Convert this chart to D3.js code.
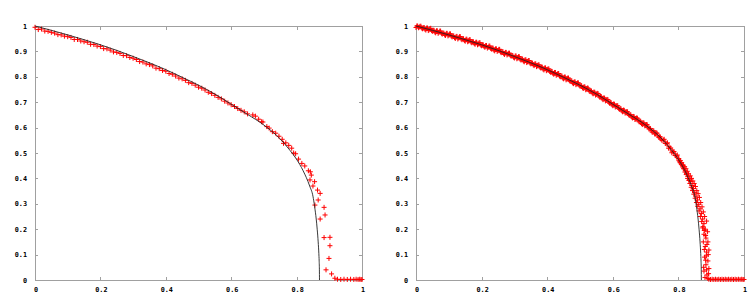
<!DOCTYPE html>
<html>
<head>
<meta charset="utf-8">
<script src="https://cdn.jsdelivr.net/npm/d3@7"></script>
<style>
  body { margin: 0; background: #fff; }
</style>
</head>
<body>
<div id="vis"></div>
<script>
// theory curve (same on both panels)
const curveX = [0,0.05,0.1,0.15,0.2,0.25,0.3,0.35,0.4,0.45,0.5,0.55,0.6,0.65,0.7,0.75,0.78,0.8,0.82,0.84,0.85,0.855,0.86,0.863,0.866,0.868,0.869,0.8697,0.870];
const curveY = [1,0.983,0.965,0.946,0.926,0.904,0.880,0.855,0.828,0.798,0.767,0.732,0.692,0.652,0.610,0.555,0.510,0.475,0.430,0.370,0.330,0.290,0.240,0.200,0.150,0.105,0.075,0.040,0];

// left panel: simulation points
const leftX = [0,0.01,0.02,0.03,0.04,0.05,0.06,0.07,0.08,0.09,0.10,0.11,0.12,0.13,0.14,0.15,0.16,0.17,0.18,0.19,
  0.20,0.21,0.22,0.23,0.24,0.25,0.26,0.27,0.28,0.29,0.30,0.31,0.32,0.33,0.34,0.35,0.36,0.37,0.38,0.39,
  0.40,0.41,0.42,0.43,0.44,0.45,0.46,0.47,0.48,0.49,0.50,0.51,0.52,0.53,0.54,0.55,0.56,0.57,0.58,0.59,
  0.60,0.61,0.62,0.63,0.64,0.65,0.666,0.674,0.684,0.693,0.697,0.709,0.716,0.726,0.736,0.746,0.756,0.760,0.767,0.776,
  0.785,0.791,0.797,0.806,0.816,0.825,0.836,0.842,0.845,0.841,0.855,0.850,0.864,0.872,0.866,0.856,0.884,0.887,0.872,0.884,
  0.902,0.902,0.899,0.89,0.907,0.917,0.925,0.935,0.945,0.955,0.965,0.975,0.982,0.988,0.993,0.997,1.0];
const leftY = [0.995,0.986,0.988,0.980,0.979,0.975,0.972,0.966,0.965,0.960,0.958,0.955,0.947,0.947,0.941,0.938,0.936,0.928,0.927,0.921,
  0.919,0.911,0.910,0.905,0.898,0.896,0.892,0.884,0.883,0.876,0.873,0.868,0.860,0.858,0.851,0.848,0.843,0.834,0.832,0.825,
  0.822,0.813,0.810,0.803,0.795,0.792,0.786,0.777,0.774,0.767,0.759,0.755,0.748,0.739,0.734,0.727,0.719,0.713,0.704,0.697,
  0.690,0.683,0.675,0.668,0.662,0.654,0.650,0.645,0.633,0.623,0.622,0.604,0.598,0.584,0.578,0.566,0.554,0.538,0.540,0.530,
  0.519,0.500,0.497,0.476,0.459,0.449,0.430,0.426,0.413,0.394,0.387,0.370,0.354,0.341,0.315,0.295,0.286,0.256,0.240,0.167,
  0.168,0.135,0.085,0.040,0.024,0.007,0.003,0.002,0.003,0.002,0.003,0.002,0.003,0.002,0.003,0.002,0.002];

// right panel: simulation points (finer sampling)
const rightX = [0,0.005,0.01,0.015,0.02,0.025,0.03,0.035,0.04,0.045,0.05,0.055,0.06,0.065,0.07,0.075,0.08,0.085,0.09,0.095,
  0.1,0.105,0.11,0.115,0.12,0.125,0.13,0.135,0.14,0.145,0.15,0.155,0.16,0.165,0.17,0.175,0.18,0.185,0.19,0.195,
  0.2,0.205,0.21,0.215,0.22,0.225,0.23,0.235,0.24,0.245,0.25,0.255,0.26,0.265,0.27,0.275,0.28,0.285,0.29,0.295,
  0.3,0.305,0.31,0.315,0.32,0.325,0.33,0.335,0.34,0.345,0.35,0.355,0.36,0.365,0.37,0.375,0.38,0.385,0.39,0.395,
  0.4,0.405,0.41,0.415,0.42,0.425,0.43,0.435,0.44,0.445,0.45,0.455,0.46,0.465,0.47,0.475,0.48,0.485,0.49,0.495,
  0.5,0.505,0.51,0.515,0.52,0.525,0.53,0.535,0.54,0.545,0.55,0.555,0.56,0.565,0.57,0.575,0.58,0.585,0.59,0.595,
  0.6,0.605,0.61,0.615,0.62,0.625,0.63,0.635,0.64,0.645,0.65,0.655,0.66,0.665,0.67,0.675,0.68,0.685,0.69,0.695,
  0.7,0.705,0.71,0.715,0.72,0.725,0.73,0.735,0.74,0.745,0.75,0.755,0.76,0.765,0.77,0.775,0.78,0.785,0.79,0.795,
  0.800,0.803,0.806,0.808,0.810,0.812,0.815,0.817,0.819,0.821,0.823,0.825,0.827,0.829,0.831,0.833,0.836,0.838,0.840,0.842,
  0.844,0.846,0.848,0.850,0.852,0.854,0.856,0.858,0.860,0.862,0.864,0.866,0.868,0.870,0.872,0.874,0.876,0.878,0.880,0.874,
  0.882,0.886,0.878,0.884,0.889,0.876,0.882,0.890,0.886,0.893,0.880,0.890,0.884,0.893,0.878,0.887,0.881,0.890,
  0.893,0.898,0.903,0.908,0.913,0.918,0.923,0.928,0.933,0.938,0.943,0.948,0.953,0.958,0.963,0.968,0.973,0.978,0.983,0.988,0.993,0.997,1.0];
const rightY = [0.994,1.000,0.996,0.999,0.989,0.994,0.984,0.992,0.985,0.991,0.979,0.983,0.973,0.981,0.975,0.980,0.968,0.972,0.963,0.971,
  0.964,0.969,0.957,0.961,0.951,0.959,0.953,0.958,0.946,0.950,0.940,0.948,0.941,0.946,0.934,0.938,0.928,0.936,0.929,0.934,
  0.922,0.926,0.916,0.923,0.916,0.921,0.909,0.913,0.902,0.910,0.903,0.908,0.895,0.899,0.888,0.896,0.889,0.893,0.881,0.884,
  0.874,0.882,0.874,0.879,0.866,0.870,0.859,0.867,0.859,0.864,0.851,0.854,0.844,0.851,0.843,0.847,0.835,0.838,0.827,0.835,
  0.827,0.831,0.818,0.821,0.810,0.817,0.809,0.813,0.800,0.803,0.792,0.799,0.791,0.795,0.782,0.784,0.773,0.780,0.772,0.776,
  0.763,0.765,0.754,0.760,0.752,0.755,0.742,0.744,0.733,0.739,0.731,0.734,0.720,0.722,0.710,0.716,0.707,0.710,0.696,0.698,
  0.686,0.692,0.683,0.686,0.672,0.674,0.662,0.668,0.659,0.662,0.648,0.650,0.638,0.643,0.634,0.637,0.623,0.625,0.612,0.618,
  0.609,0.611,0.595,0.596,0.582,0.587,0.576,0.578,0.562,0.563,0.549,0.551,0.538,0.537,0.519,0.517,0.501,0.503,0.490,0.489,
  0.478,0.468,0.470,0.460,0.462,0.450,0.452,0.440,0.446,0.430,0.438,0.420,0.428,0.408,0.418,0.398,0.410,0.388,0.400,0.372,
  0.390,0.360,0.380,0.345,0.368,0.330,0.352,0.315,0.340,0.298,0.325,0.280,0.305,0.262,0.288,0.240,0.268,0.222,0.250,0.205,
  0.200,0.232,0.180,0.165,0.190,0.150,0.132,0.150,0.110,0.118,0.090,0.075,0.060,0.045,0.035,0.020,0.010,0.006,
  0.003,0.002,0.003,0.002,0.003,0.002,0.003,0.002,0.003,0.002,0.003,0.002,0.003,0.002,0.003,0.002,0.003,0.002,0.003,0.002,0.003,0.002,0.002];

// right panel: second run of samples, between the first ones
const rightX2 = [0.0025,0.0075,0.0125,0.0175,0.0225,0.0275,0.0325,0.0375,0.0425,0.0475,0.0525,0.0575,0.0625,0.0675,0.0725,0.0775,0.0825,0.0875,0.0925,0.0975,
  0.1025,0.1075,0.1125,0.1175,0.1225,0.1275,0.1325,0.1375,0.1425,0.1475,0.1525,0.1575,0.1625,0.1675,0.1725,0.1775,0.1825,0.1875,0.1925,0.1975,
  0.2025,0.2075,0.2125,0.2175,0.2225,0.2275,0.2325,0.2375,0.2425,0.2475,0.2525,0.2575,0.2625,0.2675,0.2725,0.2775,0.2825,0.2875,0.2925,0.2975,
  0.3025,0.3075,0.3125,0.3175,0.3225,0.3275,0.3325,0.3375,0.3425,0.3475,0.3525,0.3575,0.3625,0.3675,0.3725,0.3775,0.3825,0.3875,0.3925,0.3975,
  0.4025,0.4075,0.4125,0.4175,0.4225,0.4275,0.4325,0.4375,0.4425,0.4475,0.4525,0.4575,0.4625,0.4675,0.4725,0.4775,0.4825,0.4875,0.4925,0.4975,
  0.5025,0.5075,0.5125,0.5175,0.5225,0.5275,0.5325,0.5375,0.5425,0.5475,0.5525,0.5575,0.5625,0.5675,0.5725,0.5775,0.5825,0.5875,0.5925,0.5975,
  0.6025,0.6075,0.6125,0.6175,0.6225,0.6275,0.6325,0.6375,0.6425,0.6475,0.6525,0.6575,0.6625,0.6675,0.6725,0.6775,0.6825,0.6875,0.6925,0.6975,
  0.7025,0.7075,0.7125,0.7175,0.7225,0.7275,0.7325,0.7375,0.7425,0.7475,0.7565,0.7615,0.7665,0.7715,0.7765,0.7815,0.7865,0.7915,0.7965,0.8015,
  0.801,0.805,0.809,0.813,0.816,0.820,0.824,0.828,0.832,0.835,0.839,0.843,0.847,0.851,0.855,0.859,0.863,0.867,0.871,0.875,
  0.879,0.883,0.887,0.879,0.885,0.891,0.883,0.877,0.886,0.892];
const rightY2 = [1.000,0.993,0.999,0.992,0.993,0.987,0.992,0.982,0.990,0.982,0.983,0.976,0.981,0.971,0.980,0.971,0.972,0.965,0.971,0.961,
  0.969,0.960,0.961,0.954,0.959,0.949,0.958,0.949,0.950,0.943,0.948,0.938,0.946,0.937,0.938,0.931,0.936,0.926,0.934,0.925,
  0.926,0.919,0.923,0.913,0.921,0.912,0.913,0.905,0.910,0.900,0.908,0.898,0.899,0.891,0.896,0.886,0.893,0.884,0.884,0.877,
  0.882,0.871,0.879,0.869,0.870,0.862,0.867,0.856,0.864,0.854,0.854,0.847,0.851,0.840,0.847,0.838,0.838,0.830,0.835,0.824,
  0.831,0.821,0.821,0.813,0.817,0.806,0.813,0.803,0.803,0.795,0.799,0.788,0.795,0.785,0.785,0.776,0.780,0.769,0.776,0.766,
  0.766,0.757,0.761,0.749,0.756,0.745,0.745,0.736,0.740,0.728,0.735,0.724,0.723,0.714,0.717,0.705,0.711,0.700,0.699,0.690,
  0.693,0.681,0.687,0.676,0.675,0.666,0.669,0.657,0.663,0.652,0.651,0.642,0.644,0.632,0.638,0.627,0.626,0.616,0.619,0.607,
  0.612,0.600,0.597,0.587,0.588,0.575,0.579,0.567,0.564,0.554,0.554,0.538,0.540,0.525,0.520,0.507,0.506,0.490,0.492,0.477,
  0.472,0.462,0.455,0.445,0.438,0.425,0.415,0.400,0.392,0.380,0.365,0.352,0.338,0.322,0.305,0.290,0.272,0.250,0.230,0.210,
  0.195,0.175,0.140,0.120,0.095,0.100,0.078,0.050,0.040,0.025];

const xTicks = [0,0.2,0.4,0.6,0.8,1];
const yTicks = [0,0.1,0.2,0.3,0.4,0.5,0.6,0.7,0.8,0.9,1];

const width = 748, height = 305;
const axisColor = '#a0a0a0';

const svg = d3.select('#vis')
  .append('svg')
    .attr('width', width)
    .attr('height', height);

function drawPanel(left, right, px, py) {
  const x = d3.scaleLinear().domain([0, 1]).range([left, right]);
  const y = d3.scaleLinear().domain([0, 1]).range([280, 26]);
  const g = svg.append('g');

  // frame with mirrored inward ticks
  g.append('rect')
    .attr('x', x(0) + 0.5).attr('y', y(1) + 0.5)
    .attr('width', x(1) - x(0)).attr('height', y(0) - y(1))
    .attr('fill', 'none').attr('stroke', axisColor).attr('shape-rendering', 'crispEdges');

  const tl = 3;
  g.selectAll('.xt')
    .data(xTicks)
    .join('path')
      .attr('d', d => `M${Math.round(x(d)) + 0.5},${y(0)}v${-tl}M${Math.round(x(d)) + 0.5},${y(1) + 1}v${tl}`)
      .attr('stroke', axisColor).attr('shape-rendering', 'crispEdges');
  g.selectAll('.yt')
    .data(yTicks)
    .join('path')
      .attr('d', d => `M${x(0)},${Math.round(y(d)) + 0.5}h${tl}M${x(1)},${Math.round(y(d)) + 0.5}h${-tl}`)
      .attr('stroke', axisColor).attr('shape-rendering', 'crispEdges');

  const fmt = d => d === 0 ? '0' : d === 1 ? '1' : d3.format('.1f')(d);
  g.selectAll('.xl')
    .data(xTicks)
    .join('text')
      .attr('x', d => x(d) + 1)
      .attr('y', 292)
      .attr('text-anchor', 'middle')
      .attr('font-family', 'DejaVu Sans Mono')
      .attr('font-weight', 'bold')
      .attr('font-size', 6.8)
      .attr('fill', '#000')
      .text(fmt);
  g.selectAll('.yl')
    .data(yTicks)
    .join('text')
      .attr('x', x(0) - 8)
      .attr('y', d => y(d) + 2.5)
      .attr('text-anchor', 'end')
      .attr('font-family', 'DejaVu Sans Mono')
      .attr('font-weight', 'bold')
      .attr('font-size', 6.8)
      .attr('fill', '#000')
      .text(fmt);

  // points as "+"
  const pts = d3.zip(px, py);
  g.selectAll('.pt')
    .data(pts)
    .join('path')
      .attr('d', d => `M${x(d[0]) - 2.5},${y(d[1])}h5M${x(d[0])},${y(d[1]) - 2.5}v5`)
      .attr('stroke', '#ff0000')
      .attr('stroke-width', 1)
      .attr('fill', 'none');

  // theory curve on top
  const line = d3.line()
    .x(d => x(d[0]))
    .y(d => y(d[1]))
    .curve(d3.curveMonotoneX);
  g.append('path')
    .datum(d3.zip(curveX, curveY))
    .attr('d', line)
    .attr('fill', 'none')
    .attr('stroke', '#222')
    .attr('stroke-width', 0.9);
}

drawPanel(35, 362, leftX, leftY);
drawPanel(416, 744, rightX.concat(rightX2), rightY.concat(rightY2));
</script>
</body>
</html>
